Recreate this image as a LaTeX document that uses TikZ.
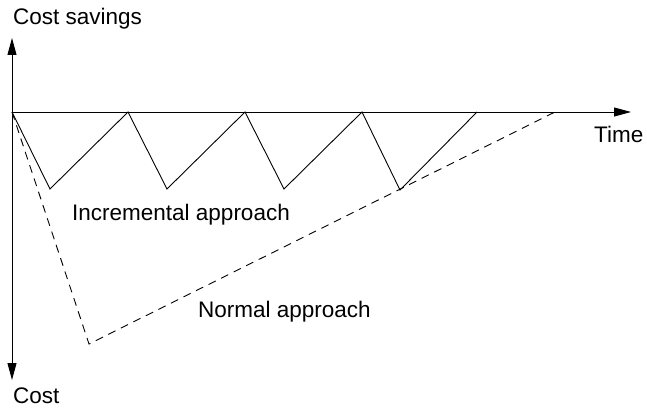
\documentclass[tikz,border=0pt]{standalone}
\usepackage{fontspec}
\setmainfont{Liberation Sans}
\usetikzlibrary{positioning, arrows.meta}

\tikzset{
    axis/.style={line width=0.9pt, -{Triangle[length=17pt, width=9pt]}},
    saw/.style={line width=0.9pt, line join=miter},
    normal/.style={line width=0.9pt, dash pattern=on 8pt off 6pt},
    lbl/.style={anchor=base west, inner sep=0pt, font=\fontsize{22.5}{26}\selectfont}
}

\begin{document}
\begin{tikzpicture}[x=1pt, y=-1pt]
    \useasboundingbox (0,0) rectangle (647,409);

    % Axes
    \coordinate (O) at (12,112);
    \coordinate (top) at (12,38);
    \coordinate (bot) at (12,380);
    \coordinate (right) at (631,112);
    \draw[axis] (O) -- (top);
    \draw[axis] (O) -- (bot);
    \draw[axis] (O) -- (right);

    \node[lbl] (savings) at (13,25) {Cost savings};
    \node[lbl] (cost) at (13,403) {Cost};
    \node[lbl] (time) at (594,142) {Time};

    % Incremental approach (sawtooth)
    \coordinate (d1) at (50,189);
    \coordinate (p1) at (128,112);
    \coordinate (d2) at (167,189);
    \coordinate (p2) at (245,112);
    \coordinate (d3) at (284,189);
    \coordinate (p3) at (362,112);
    \coordinate (d4) at (400,190);
    \coordinate (p4) at (477,112);
    \draw[saw] (O) -- (d1) -- (p1) -- (d2) -- (p2) -- (d3) -- (p3) -- (d4) -- (p4);
    \node[lbl] (incr) at (72,220) {Incremental approach};

    % Normal approach (dashed)
    \coordinate (low) at (89,344);
    \coordinate (end) at (555,112);
    \draw[normal] (O) -- (low) -- (end);
    \node[lbl] (norm) at (198,317) {Normal approach};
\end{tikzpicture}
\end{document}
